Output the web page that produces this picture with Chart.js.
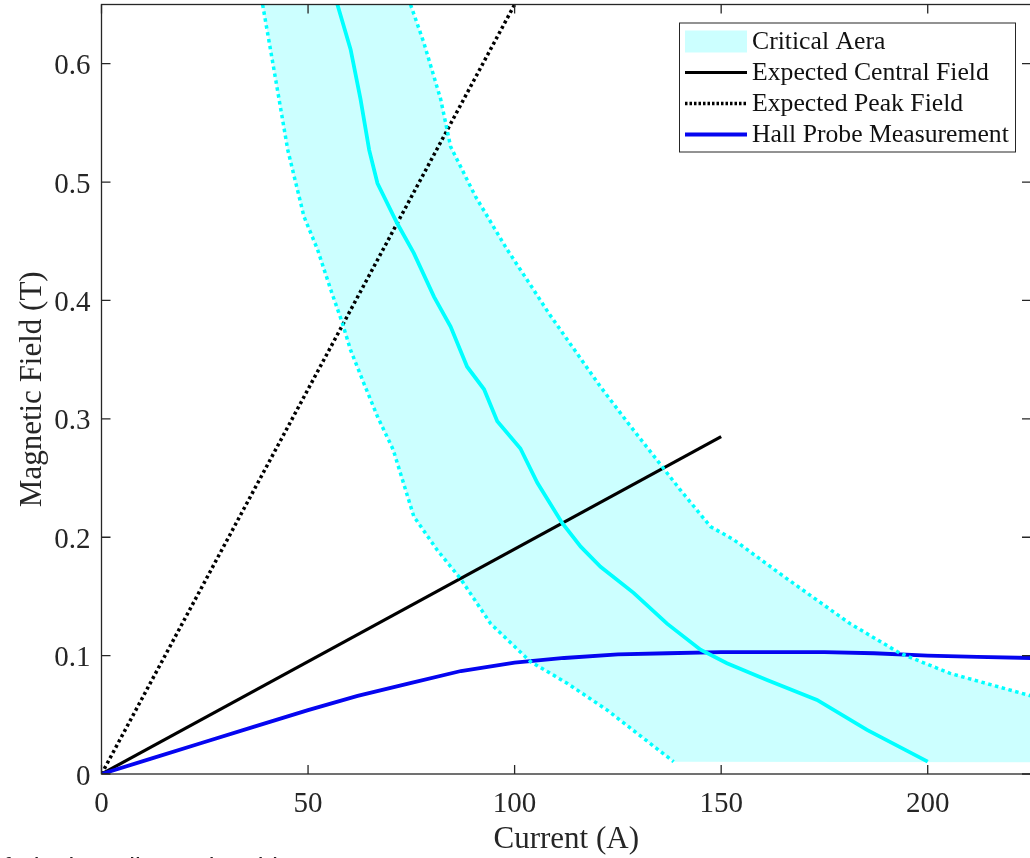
<!DOCTYPE html>
<html lang="en">
<head>
    <meta charset="UTF-8">
    <title>Magnetic Field vs Current</title>
    <script src="https://cdn.jsdelivr.net/npm/chart.js"></script>
    <style>
        html, body {
            margin: 0;
            padding: 0;
            background: #fff;
            overflow: hidden;
        }
        .wrap {
            position: relative;
            width: 1030px;
            height: 858px;
            overflow: hidden;
        }
        #chart {
            position: absolute;
            left: 0;
            top: 0;
        }
        .caption {
            position: absolute;
            left: -11px;
            top: 854px;
            font-family: 'Liberation Sans', Arial, sans-serif;
            font-size: 26px;
            line-height: 26px;
            color: #222;
            white-space: nowrap;
        }
    </style>
</head>
<body>
    <div class="wrap">
        <canvas id="chart" width="1032" height="858"></canvas>
        <div class="caption">of Final Cooling Solenoid</div>
    </div>
    <script>
        // critical area, lower (left) dotted boundary
        const lowerX = [39.0, 41.5, 45.1, 49.0, 52.3, 55.5, 58.3, 60.3, 63.5, 66.8, 70.6, 75.6, 81.3, 86.9, 94.2, 103.8, 112.7, 122.4, 138.5];
        const lowerY = [0.65, 0.60, 0.527, 0.471, 0.443, 0.409, 0.381, 0.358, 0.330, 0.302, 0.274, 0.2175, 0.189, 0.165, 0.127, 0.095, 0.0767, 0.054, 0.0104];
        // critical area, upper (right) dotted boundary
        const upperX = [74.8, 78.0, 82.1, 84.5, 90.5, 98.2, 104.6, 108.3, 120.8, 128.0, 134.5, 140.1, 147.4, 153.0, 165.1, 181.2, 193.3, 205.4, 225];
        const upperY = [0.65, 0.618, 0.570, 0.530, 0.488, 0.443, 0.409, 0.389, 0.327, 0.294, 0.265, 0.240, 0.209, 0.198, 0.167, 0.127, 0.102, 0.085, 0.066];
        // critical curve (solid cyan)
        const critX = [57.1, 60.3, 62.7, 64.8, 66.8, 71.6, 75.6, 80.5, 84.5, 88.5, 92.6, 95.8, 101.4, 105.5, 111.5, 116.0, 120.8, 128.8, 136.9, 145.0, 151.4, 161.1, 173.2, 185.3, 200.0];
        const critY = [0.65, 0.612, 0.570, 0.527, 0.499, 0.465, 0.440, 0.403, 0.378, 0.344, 0.325, 0.298, 0.275, 0.246, 0.212, 0.192, 0.175, 0.153, 0.127, 0.105, 0.0936, 0.0795, 0.0626, 0.0372, 0.0104];
        const areaFloor = 0.01;
        const areaRight = 225;

        const centralX = [0, 150];
        const centralY = [0, 0.285];
        const peakX = [0, 100];
        const peakY = [0, 0.65];

        const hallX = [0, 12, 24, 37, 50, 62, 75, 87, 100, 112, 125, 137, 150, 162, 175, 187, 200, 212, 225];
        const hallY = [0, 0.013, 0.026, 0.040, 0.054, 0.066, 0.077, 0.087, 0.094, 0.098, 0.101, 0.102, 0.103, 0.103, 0.103, 0.102, 0.100, 0.099, 0.098];

        const xTicks = [0, 50, 100, 150, 200];
        const yTicks = [0, 0.1, 0.2, 0.3, 0.4, 0.5, 0.6];

        const pts = (xs, ys) => xs.map((x, i) => ({ x: x, y: ys[i] }));

        // closed outline of the shaded area
        const areaPts = pts(lowerX, lowerY)
            .concat([{ x: areaRight, y: areaFloor }])
            .concat(pts(upperX, upperY).reverse());

        const AXIS = '#262626';
        const SERIF = "'Liberation Serif', 'Times New Roman', serif";
        const CYAN = '#00ffff';

        // MATLAB style box with inward ticks
        const frame = {
            id: 'frame',
            afterDatasetsDraw(chart) {
                const { ctx, chartArea: a, scales } = chart;
                const len = 9;
                ctx.save();
                ctx.strokeStyle = AXIS;
                ctx.lineWidth = 1.3;
                ctx.strokeRect(a.left, a.top, a.right - a.left, a.bottom - a.top);
                ctx.beginPath();
                xTicks.forEach(v => {
                    const px = scales.x.getPixelForValue(v);
                    ctx.moveTo(px, a.bottom); ctx.lineTo(px, a.bottom - len);
                    ctx.moveTo(px, a.top); ctx.lineTo(px, a.top + len);
                });
                yTicks.forEach(v => {
                    const py = scales.y.getPixelForValue(v);
                    ctx.moveTo(a.left, py); ctx.lineTo(a.left + len, py);
                    ctx.moveTo(a.right, py); ctx.lineTo(a.right - len, py);
                });
                ctx.stroke();
                ctx.restore();
            }
        };

        // legend box in the top-right corner
        const legendBox = {
            id: 'legendBox',
            afterDraw(chart) {
                const { ctx, chartArea: a } = chart;
                const items = chart.data.datasets.filter(d => d.label);
                const w = 336, h = 129;
                const left = a.right - 16 - w;
                const top = a.top + 18;
                ctx.save();
                ctx.fillStyle = '#fff';
                ctx.fillRect(left, top, w, h);
                ctx.strokeStyle = AXIS;
                ctx.lineWidth = 1;
                ctx.strokeRect(left + 0.5, top + 0.5, w, h);
                ctx.font = '25.7px ' + SERIF;
                ctx.textBaseline = 'middle';
                items.forEach((d, i) => {
                    const cy = top + 19 + i * 31;
                    const x0 = left + 6, x1 = left + 68;
                    if (d.fill) {
                        ctx.fillStyle = d.backgroundColor;
                        ctx.fillRect(x0, cy - 11, x1 - x0, 22);
                    } else {
                        ctx.strokeStyle = d.borderColor;
                        ctx.lineWidth = d.borderWidth;
                        ctx.setLineDash(d.borderDash ? [2.5, 2] : []);
                        ctx.beginPath();
                        ctx.moveTo(x0, cy); ctx.lineTo(x1, cy);
                        ctx.stroke();
                        ctx.setLineDash([]);
                    }
                    ctx.fillStyle = '#111';
                    ctx.fillText(d.label, left + 73, cy + 1);
                });
                ctx.restore();
            }
        };

        // fixed axis boxes, no automatic label padding
        const fixBox = size => s => {
            if (s.isHorizontal()) s.height = size; else s.width = size;
            s.paddingTop = 0; s.paddingBottom = 0; s.paddingLeft = 0; s.paddingRight = 0;
        };

        new Chart(document.getElementById('chart'), {
            type: 'scatter',
            data: {
                datasets: [
                    { label: 'Critical Aera', data: areaPts, showLine: true, fill: 'shape', backgroundColor: 'rgba(0,255,255,0.2)', borderWidth: 0, borderColor: 'rgba(0,0,0,0)', pointRadius: 0, order: 10 },
                    { label: 'Expected Central Field', data: pts(centralX, centralY), showLine: true, borderColor: '#000', borderWidth: 3.2, pointRadius: 0, order: 6 },
                    { label: 'Expected Peak Field', data: pts(peakX, peakY), showLine: true, borderColor: '#000', borderWidth: 3.5, borderDash: [3, 3], pointRadius: 0, order: 5 },
                    { label: 'Hall Probe Measurement', data: pts(hallX, hallY), showLine: true, borderColor: '#0505f0', borderWidth: 3.8, pointRadius: 0, order: 4 },
                    { data: pts(lowerX, lowerY), showLine: true, borderColor: CYAN, borderWidth: 3.5, borderDash: [3.5, 3.5], pointRadius: 0, order: 3 },
                    { data: pts(upperX, upperY), showLine: true, borderColor: CYAN, borderWidth: 3.5, borderDash: [3.5, 3.5], pointRadius: 0, order: 2 },
                    { data: pts(critX, critY), showLine: true, borderColor: CYAN, borderWidth: 3.8, pointRadius: 0, order: 1 }
                ]
            },
            options: {
                responsive: false,
                animation: false,
                devicePixelRatio: 1,
                layout: { autoPadding: false, padding: { left: 0, top: 4.5, right: 1, bottom: 0 } },
                plugins: { legend: { display: false }, tooltip: { enabled: false } },
                scales: {
                    x: {
                        type: 'linear', min: 0, max: 225,
                        afterFit: fixBox(84),
                        afterBuildTicks: s => { s.ticks = xTicks.map(v => ({ value: v })); },
                        grid: { display: false, drawTicks: false },
                        border: { display: false },
                        ticks: { includeBounds: false, padding: 13, color: AXIS, font: { family: SERIF, size: 29 }, maxRotation: 0, callback: v => String(v) },
                        title: { display: true, text: 'Current (A)', color: AXIS, font: { family: SERIF, size: 31 }, padding: { top: 0, bottom: 0 } }
                    },
                    y: {
                        type: 'linear', min: 0, max: 0.65,
                        afterFit: fixBox(101.5),
                        afterBuildTicks: s => { s.ticks = yTicks.map(v => ({ value: v })); },
                        grid: { display: false, drawTicks: false },
                        border: { display: false },
                        ticks: { includeBounds: false, padding: 11, labelOffset: 3, color: AXIS, font: { family: SERIF, size: 29 }, callback: v => v === 0 ? '0' : v.toFixed(1) },
                        title: { display: true, text: 'Magnetic Field (T)', color: AXIS, font: { family: SERIF, size: 31 }, padding: { top: 14, bottom: 0 } }
                    }
                }
            },
            plugins: [frame, legendBox]
        });
    </script>
</body>
</html>
